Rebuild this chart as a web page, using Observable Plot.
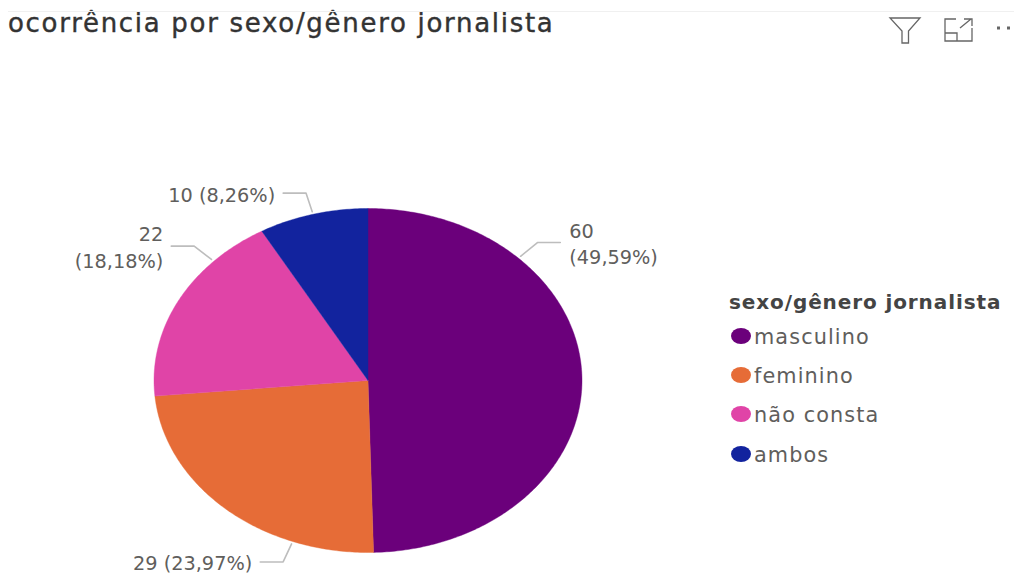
<!DOCTYPE html>
<html lang="pt">
<head>
<meta charset="utf-8">
<script src="https://cdn.jsdelivr.net/npm/d3@7"></script>
<script src="https://cdn.jsdelivr.net/npm/@observablehq/plot@0.6"></script>
<style>
  html, body { margin: 0; padding: 0; background: #fff; width: 1014px; height: 576px; overflow: hidden; }
  body { position: relative; font-family: "DejaVu Sans", sans-serif; }
  #rule { position: absolute; left: 8px; right: 0; top: 11px; border-top: 1px solid #f0f0f0; }
  #head { height: 40px; box-sizing: border-box; padding: 6px 0 0 8px; font-size: 26px; line-height: 34px; color: #333; letter-spacing: 1.7px; white-space: nowrap; -webkit-text-stroke: 0.4px #333; }
  #chart svg { display: block; }
  #icons { position: absolute; left: 885px; top: 12px; }
  #legend { position: absolute; left: 729px; top: 288px; color: #605e5c; font-size: 20.8px; letter-spacing: 1.1px; }
  #legend .t { font-weight: 700; color: #444; line-height: 28px; font-size: 20px; letter-spacing: .9px; white-space: nowrap; }
  #legend .i { display: flex; align-items: center; height: 39.4px; white-space: nowrap; position: relative; top: 1px; }
  #legend .s { display: inline-block; width: 20px; height: 16px; border-radius: 50%; margin: 0 3px 2px 2px; }
</style>
</head>
<body>
<div id="rule"></div>
<div id="head">ocorrência por sexo/gênero jornalista</div>
<div id="chart"></div>
<svg id="icons" width="129" height="32" fill="none" stroke="#666" stroke-width="1.3">
  <path d="M5 6H35L23.5 19V31H17V19Z"/>
  <path d="M71 7H60V29H87V16M60 21H72V29M75 16L86 7M79 7H87V14"/>
  <path d="M112 16h3M122 16h3" stroke-width="3"/>
</svg>
<div id="legend"></div>
<script>
const categories = ["masculino", "feminino", "não consta", "ambos"];
const counts = [60, 29, 22, 10];
const valueLabels = ["60\n(49,59%)", "29 (23,97%)", "22\n(18,18%)", "10 (8,26%)"];
const colors = ["#6b007b", "#e66c37", "#e044a7", "#12239e"];
const legendTitle = "sexo/gênero jornalista";

// where, along each slice, Power BI hung its leader line
const leaderFraction = [0.25, 0.256, 0.75, 0.5];

const pie = d3.pie().sort(null)(counts);
const polar = (a, r) => [r * Math.sin(a), r * Math.cos(a)];

const slicePoints = pie.flatMap((p, i) => {
  const n = Math.ceil((p.endAngle - p.startAngle) * 80);
  const arc = d3.range(n + 1).map(k => polar(p.startAngle + (p.endAngle - p.startAngle) * k / n, 1));
  return [[0, 0], ...arc, [0, 0]].map(([x, y]) => ({x, y, name: categories[i]}));
});

const leaders = pie.map((p, i) => {
  const a = p.startAngle + (p.endAngle - p.startAngle) * leaderFraction[i];
  const [x0, y0] = polar(a, 1.015);
  const [x1, y1] = polar(a, 1.127);
  const side = x1 >= 0 ? 1 : -1;
  return {name: categories[i], label: valueLabels[i], side, path: [[x0, y0], [x1, y1], [x1 + side * 0.107, y1]]};
});
const leaderPoints = leaders.flatMap(l => l.path.map(([x, y]) => ({x, y, name: l.name})));
const labelAnchor = side => leaders.filter(l => l.side === side).map(l => ({x: l.path[2][0], y: l.path[2][1], label: l.label}));

const labelStyle = {x: "x", y: "y", text: "label", fontSize: 19.3, lineHeight: 1.36, fill: "#605e5c", fontFamily: "DejaVu Sans"};

const plot = Plot.plot({
  width: 1014,
  height: 536,
  margin: 0,
  style: {background: "transparent", overflow: "visible"},
  x: {domain: [-1, 1], range: [153.5, 581.5], axis: null},
  y: {domain: [-1, 1], range: [512, 168], axis: null},
  color: {domain: categories, range: colors},
  marks: [
    Plot.line(slicePoints, {x: "x", y: "y", z: "name", fill: "name", stroke: "name", strokeWidth: 0.4, curve: "linear"}),
    Plot.line(leaderPoints, {x: "x", y: "y", z: "name", stroke: "#bdbdbd", strokeWidth: 1.6, curve: "linear"}),
    Plot.text(labelAnchor(1), {...labelStyle, textAnchor: "start", dx: 9, dy: 0}),
    Plot.text(labelAnchor(-1), {...labelStyle, textAnchor: "end", dx: -8, dy: 0})
  ]
});
document.getElementById("chart").append(plot);

const legend = document.getElementById("legend");
const t = document.createElement("div");
t.className = "t";
t.textContent = legendTitle;
legend.append(t);
categories.forEach((c, i) => {
  const row = document.createElement("div");
  row.className = "i";
  const s = document.createElement("span");
  s.className = "s";
  s.style.background = colors[i];
  row.append(s, document.createTextNode(c));
  legend.append(row);
});
</script>
</body>
</html>
